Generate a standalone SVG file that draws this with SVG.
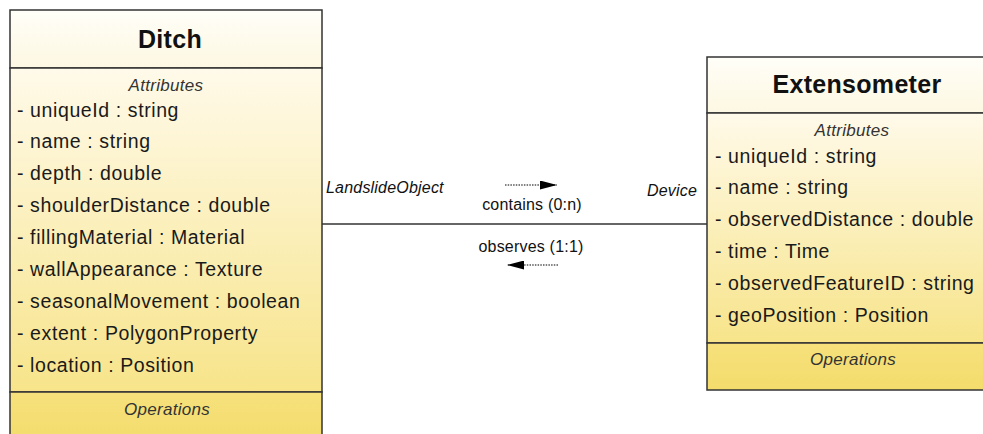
<svg xmlns="http://www.w3.org/2000/svg" width="983" height="434" viewBox="0 0 983 434">
<style>
.t{font-family:"Liberation Sans",Arial,sans-serif;fill:#111}
.title{font-size:25px;font-weight:bold;text-anchor:middle;letter-spacing:0.3px}
.sec{font-size:17px;font-style:italic;text-anchor:middle;fill:#333;letter-spacing:0.3px}
.attr{font-size:19.5px;fill:#1a1a1a;letter-spacing:0.6px}
.lbl{font-size:16px;letter-spacing:0.2px}
.it{font-style:italic}
.box{stroke:#333;stroke-width:1.5}
</style>
<defs>
<linearGradient id="gTitle" x1="0" y1="0" x2="0" y2="1"><stop offset="0" stop-color="#fffef8"/><stop offset="1" stop-color="#fdf8e2"/></linearGradient>
<linearGradient id="gAttr" x1="0" y1="0" x2="0" y2="1"><stop offset="0" stop-color="#fffaea"/><stop offset="1" stop-color="#f7e48a"/></linearGradient>
<linearGradient id="gOps" x1="0" y1="0" x2="0" y2="1"><stop offset="0" stop-color="#f6e17c"/><stop offset="1" stop-color="#f4dc6c"/></linearGradient>
<marker id="ah" markerWidth="17" markerHeight="9" refX="17" refY="4.5" orient="auto" markerUnits="userSpaceOnUse"><path d="M0,0 L17,4.5 L0,9 Z" fill="#000"/></marker>
</defs>
<g id="connectors">
<line x1="322" y1="224" x2="707" y2="224" stroke="#333" stroke-width="1.5"/>
<line x1="505" y1="185" x2="557" y2="185" stroke="#000" stroke-width="1.2" stroke-dasharray="1.5,1.2" marker-end="url(#ah)"/>
<line x1="558" y1="265" x2="507" y2="265" stroke="#000" stroke-width="1.2" stroke-dasharray="1.5,1.2" marker-end="url(#ah)"/>
<text class="t lbl it" x="326" y="193">LandslideObject</text>
<text class="t lbl it" x="697" y="196" text-anchor="end">Device</text>
<text class="t lbl" x="532" y="210" text-anchor="middle">contains (0:n)</text>
<text class="t lbl" x="531" y="252" text-anchor="middle">observes (1:1)</text>
</g>
<g id="ditch">
<rect x="10" y="10" width="312" height="58" fill="url(#gTitle)" class="box"/>
<rect x="10" y="68" width="312" height="324" fill="url(#gAttr)" class="box"/>
<rect x="10" y="392" width="312" height="50" fill="url(#gOps)" class="box"/>
<text class="t title" x="170" y="48">Ditch</text>
<text class="t sec" x="166" y="91">Attributes</text>
<text class="t attr" x="17" y="117">- uniqueId : string</text>
<text class="t attr" x="17" y="148">- name : string</text>
<text class="t attr" x="17" y="180">- depth : double</text>
<text class="t attr" x="17" y="212">- shoulderDistance : double</text>
<text class="t attr" x="17" y="244">- fillingMaterial : Material</text>
<text class="t attr" x="17" y="276">- wallAppearance : Texture</text>
<text class="t attr" x="17" y="308">- seasonalMovement : boolean</text>
<text class="t attr" x="17" y="340">- extent : PolygonProperty</text>
<text class="t attr" x="17" y="372">- location : Position</text>
<text class="t sec" x="167" y="415">Operations</text>
</g>
<g id="extensometer">
<rect x="707" y="57" width="292" height="56" fill="url(#gTitle)" class="box"/>
<rect x="707" y="113" width="292" height="230" fill="url(#gAttr)" class="box"/>
<rect x="707" y="343" width="292" height="47" fill="url(#gOps)" class="box"/>
<text class="t title" x="857" y="93">Extensometer</text>
<text class="t sec" x="852" y="136">Attributes</text>
<text class="t attr" x="715" y="163">- uniqueId : string</text>
<text class="t attr" x="715" y="194">- name : string</text>
<text class="t attr" x="715" y="226">- observedDistance : double</text>
<text class="t attr" x="715" y="258">- time : Time</text>
<text class="t attr" x="715" y="290">- observedFeatureID : string</text>
<text class="t attr" x="715" y="322">- geoPosition : Position</text>
<text class="t sec" x="853" y="365">Operations</text>
</g>
</svg>
